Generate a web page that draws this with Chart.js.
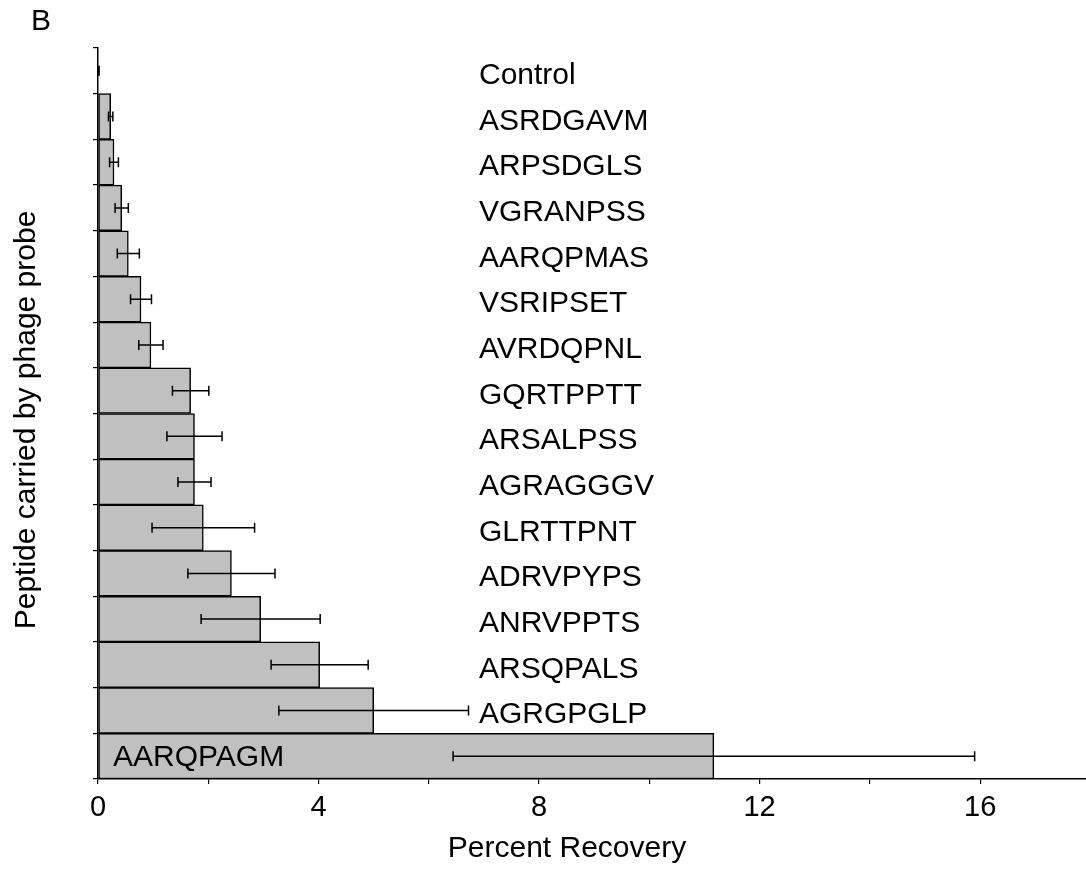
<!DOCTYPE html>
<html>
<head>
<meta charset="utf-8">
<script src="https://cdn.jsdelivr.net/npm/chart.js@4/dist/chart.umd.min.js"></script>
<style>
  html, body { margin: 0; padding: 0; background: #fff; }
  #wrap { width: 1086px; height: 871px; position: relative; }
</style>
</head>
<body>
<div id="wrap"><canvas id="recoveryChart"></canvas></div>
<script>
// peptides, top to bottom
const peptides = ['Control', 'ASRDGAVM', 'ARPSDGLS', 'VGRANPSS', 'AARQPMAS', 'VSRIPSET', 'AVRDQPNL',
    'GQRTPPTT', 'ARSALPSS', 'AGRAGGGV', 'GLRTTPNT', 'ADRVPYPS', 'ANRVPPTS', 'ARSQPALS', 'AGRGPGLP', 'AARQPAGM'];
const recovery = [0, 0.23, 0.29, 0.43, 0.55, 0.78, 0.96, 1.68, 1.75, 1.75, 1.91, 2.42, 2.95, 4.02, 5.0, 11.17];
const errors = [0.02, 0.04, 0.08, 0.12, 0.2, 0.19, 0.22, 0.33, 0.5, 0.3, 0.93, 0.79, 1.08, 0.88, 1.72, 4.73];
const xTicks = [0, 2, 4, 6, 8, 10, 12, 14, 16];
const labeledTicks = [0, 4, 8, 12, 16];

const FONT = "'Liberation Sans', Arial, sans-serif";

const annotate = {
    id: 'annotate',
    afterDatasetsDraw(chart) {
        const { ctx, scales: { x, y } } = chart;
        ctx.save();
        // error bars
        ctx.strokeStyle = '#000';
        ctx.lineWidth = 1.5;
        recovery.forEach((v, i) => {
            const cy = y.getPixelForValue(i);
            const x1 = x.getPixelForValue(Math.max(0, v - errors[i]));
            const x2 = x.getPixelForValue(v + errors[i]);
            ctx.beginPath();
            ctx.moveTo(x1, cy); ctx.lineTo(x2, cy);
            ctx.moveTo(x1, cy - 5); ctx.lineTo(x1, cy + 5);
            ctx.moveTo(x2, cy - 5); ctx.lineTo(x2, cy + 5);
            ctx.stroke();
        });
        // peptide names
        ctx.fillStyle = '#000';
        ctx.font = '30px ' + FONT;
        ctx.textAlign = 'left';
        ctx.textBaseline = 'alphabetic';
        peptides.forEach((p, i) => {
            const cy = y.getPixelForValue(i);
            const last = i === peptides.length - 1;
            ctx.fillText(p, last ? 113 : 479, cy + (last ? 10 : 13));
        });
        // panel letter and axis titles
        ctx.textAlign = 'center';
        ctx.textBaseline = 'middle';
        ctx.fillText('B', 41, 22);
        ctx.fillText('Percent Recovery', 567, 849);
        ctx.translate(27, 420);
        ctx.rotate(-Math.PI / 2);
        ctx.fillText('Peptide carried by phage probe', 0, 0);
        ctx.restore();
    }
};

new Chart(document.getElementById('recoveryChart'), {
    type: 'bar',
    data: {
        labels: peptides,
        datasets: [{
            data: recovery,
            backgroundColor: '#c0c0c0',
            borderColor: '#000',
            borderWidth: 1.5,
            borderSkipped: false,
            barPercentage: 1,
            categoryPercentage: 1
        }]
    },
    options: {
        indexAxis: 'y',
        responsive: true,
        maintainAspectRatio: false,
        animation: false,
        layout: { padding: { top: 48, left: 0, right: 0, bottom: 0 } },
        plugins: {
            legend: { display: false },
            tooltip: { enabled: false }
        },
        scales: {
            y: {
                type: 'category',
                offset: true,
                grid: { drawOnChartArea: false, drawTicks: true, tickLength: 5, color: '#000', offset: true, lineWidth: 1.2 },
                border: { color: '#000', width: 1.5 },
                ticks: { display: false },
                afterFit: (scale) => { scale.width = 98; }
            },
            x: {
                type: 'linear',
                min: 0,
                max: 17.92,
                afterBuildTicks: (scale) => { scale.ticks = xTicks.map(v => ({ value: v })); },
                grid: { drawOnChartArea: false, drawTicks: true, tickLength: 5, color: '#000', lineWidth: 1.2 },
                border: { color: '#000', width: 1.5 },
                ticks: {
                    color: '#000',
                    font: { family: FONT, size: 29 },
                    padding: 7,
                    maxRotation: 0,
                    autoSkip: false,
                    callback: (v) => labeledTicks.includes(v) ? String(v) : ''
                },
                afterFit: (scale) => { scale.height = 92; }
            }
        }
    },
    plugins: [annotate]
});
</script>
</body>
</html>
